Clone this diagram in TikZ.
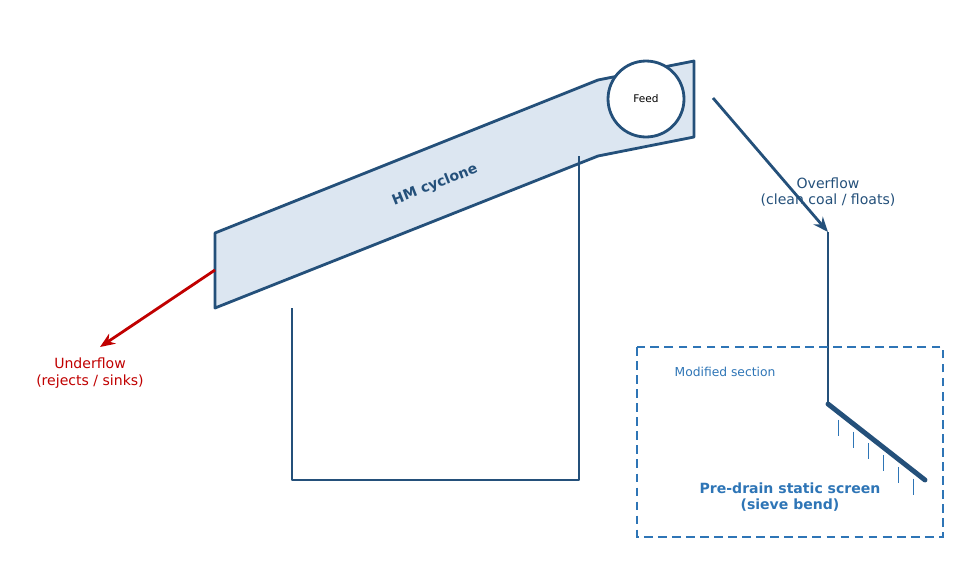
\documentclass[tikz,border=0pt]{standalone}
\usepackage{fontspec}
\setmainfont{DejaVu Sans}
\usetikzlibrary{arrows.meta}
\definecolor{Hmblue}{HTML}{24507A}
\definecolor{Hmfill}{HTML}{DCE6F1}
\definecolor{Modblue}{HTML}{2E75B6}
\definecolor{Hmred}{HTML}{C00000}
\tikzset{
    unit/.style = {draw=Hmblue, line width=1.6pt, line join=round},
    flow/.style = {line width=1.6pt, -{Stealth[length=3mm,width=2.4mm]}},
    label/.style = {font=\fontsize{8}{9.5}\selectfont, align=center}
}
\begin{document}
\begin{tikzpicture}[x=0.02cm,y=-0.02cm]
    \useasboundingbox (0,0) rectangle (972,585);
    % Cyclone body
    \draw[unit, fill=Hmfill] (215,233) -- (598,80) -- (694,61) -- (694,137) -- (598,156) -- (215,308) -- cycle;
    \node[text=Hmblue, rotate=21.8, font=\bfseries\fontsize{8}{9.5}\selectfont] (hm) at (435,185) {HM cyclone};
    \node[unit, circle, fill=white, minimum size=1.52cm, inner sep=0pt, font=\fontsize{6}{7}\selectfont] (feed) at (646,99) {Feed};
    % Frame
    \draw[unit] (292,308) -- (292,480) -- (579,480) -- (579,156);
    % Overflow
    \coordinate (ovs) at (713,98);
    \coordinate (ove) at (828,232);
    \coordinate (bend) at (828,404);
    \coordinate (scr) at (925,480);
    \draw[flow, Hmblue] (ovs) -- (ove);
    \node[label, text=Hmblue] (ovl) at (828,192) {Overflow\\(clean coal / floats)};
    \draw[unit] (ove) -- (bend);
    \draw[draw=Hmblue, line width=2.8pt, line cap=round] (bend) -- (scr);
    \foreach \x in {838,853,868,883,898,913}
        \draw[Modblue, thin] (\x,{404+(\x-828)*0.784+8}) -- ++(0,16);
    % Underflow
    \coordinate (uns) at (215,270);
    \coordinate (une) at (100,347);
    \draw[flow, Hmred] (uns) -- (une);
    \node[label, text=Hmred] (unl) at (90,373) {Underflow\\(rejects / sinks)};
    % Modified section
    \draw[Modblue, line width=1.2pt, dash pattern=on 5pt off 3pt] (637,347) rectangle (943,537);
    \node[text=Modblue, font=\fontsize{7}{8.5}\selectfont] (mod) at (725,372) {Modified section};
    \node[label, text=Modblue, font=\bfseries\fontsize{8}{9.5}\selectfont] (pre) at (790,497) {Pre-drain static screen\\(sieve bend)};
\end{tikzpicture}
\end{document}
